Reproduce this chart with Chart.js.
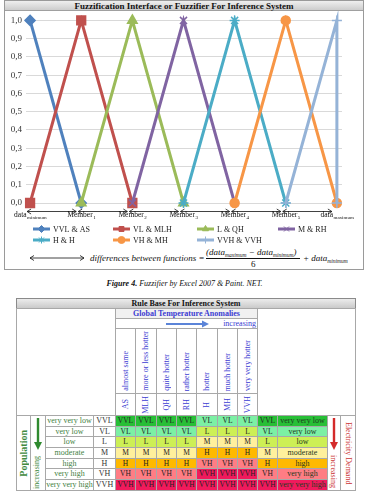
<!DOCTYPE html>
<html><head><meta charset="utf-8">
<script src="https://cdn.jsdelivr.net/npm/chart.js@4.4.1/dist/chart.umd.min.js"></script>
<style>
html,body{margin:0;padding:0;background:#fff;}
body{width:369px;height:492px;position:relative;overflow:hidden;font-family:'Liberation Serif','Times New Roman',serif;color:#111;}
.abs{position:absolute;box-sizing:border-box;}
#chartBox{left:4px;top:0;width:360px;height:270px;border:1px solid #9a9a9a;}
#chartTitle{left:0;top:0;width:358px;height:10px;background:linear-gradient(#efefef,#cdcdcd);border-bottom:1px solid #a0a0a0;font-weight:bold;font-size:9px;line-height:10px;text-align:center;}
.cell{position:absolute;box-sizing:border-box;border:1px solid #a8a8a8;display:flex;align-items:center;justify-content:center;overflow:hidden;white-space:nowrap;font-size:8px;line-height:1;}
.vup{writing-mode:vertical-rl;transform:rotate(180deg);}
.vdown{writing-mode:vertical-rl;}
.fx{position:absolute;font-style:italic;font-size:9px;white-space:nowrap;line-height:1;}
.fx sub{font-size:5.5px;vertical-align:-2px;}
</style></head><body>
<div id="chartBox" class="abs"><div id="chartTitle" class="abs">Fuzzification Interface or Fuzzifier For Inference System</div></div>
<canvas id="c" width="359" height="236" style="position:absolute;left:4px;top:11px;"></canvas>

<svg class="abs" style="left:29px;top:254px" width="56" height="8"><g stroke="#111" stroke-width="0.8" fill="none"><line x1="1" y1="4" x2="55" y2="4"/><polyline points="5,1.5 1,4 5,6.5"/><polyline points="51,1.5 55,4 51,6.5"/></g></svg>
<div class="fx" style="left:90px;top:254px">differences between functions =</div>
<div class="fx" style="left:206px;top:248px">(data<sub>maximum</sub> − data<sub>minimum</sub>)</div>
<div class="abs" style="left:206px;top:258px;width:94px;height:0;border-top:0.8px solid #111"></div>
<div class="fx" style="left:251px;top:260px;font-style:normal">6</div>
<div class="fx" style="left:303px;top:254px">+ data<sub>minimum</sub></div>

<div class="abs" style="left:0;top:280px;width:369px;text-align:center;font-size:8px;font-style:italic;line-height:1"><b>Figure 4.</b> Fuzzifier by Excel 2007 &amp; Paint. NET.</div>

<script>
// ---------- chart data ----------
const xLabelMain = ['data','Member','Member','Member','Member','Member','data'];
const xLabelSub  = ['minimum','1','2','3','4','5','maximum'];
const seriesNames = ['VVL & AS','VL & MLH','L & QH','M & RH','H & H','VH & MH','VVH & VVH'];
const seriesX = [[0,1],[0,1,2],[1,2,3],[2,3,4],[3,4,5],[4,5,6],[5,6,6]];
const seriesY = [[1,0],[0,1,0],[0,1,0],[0,1,0],[0,1,0],[0,1,0],[0,1,0]];
const seriesColors = ['#4f81bd','#c0504d','#9bbb59','#8064a2','#4bacc6','#f79646','#95b3d7'];
const markerStyles = ['rectRot','rect','triangle','crossRot','star','circle','cross'];
const markerSizes = [5,6.2,5.5,5,5,4.5,5];

// ---------- table data ----------
const tableTitle = 'Rule Base For Inference System';
const tempHeader = 'Global Temperature Anomalies';
const tempTerms = ['almost same','more or less hotter','quite hotter','rather hotter','hotter','much hotter','very very hotter'];
const tempAbbr = ['AS','MLH','QH','RH','H','MH','VVH'];
const popTerms = ['very very low','very low','low','moderate','high','very high','very very high'];
const popAbbr = ['VVL','VL','L','M','H','VH','VVH'];
const demandAbbr = ['VVL','VL','L','M','H','VH','VVH'];
const demandTerms = ['very very low','very low','low','moderate','high','very high','very very high'];
const ruleRows = [
  ['VVL','VVL','VVL','VVL','VL','VL','VL'],
  ['VL','VL','VL','VL','L','L','L'],
  ['L','L','L','L','M','M','M'],
  ['M','M','M','M','H','H','H'],
  ['H','H','H','H','VH','VH','VH'],
  ['VH','VH','VH','VH','VVH','VVH','VVH'],
  ['VVH','VVH','VVH','VVH','VVH','VVH','VVH']
];
const levelColors = {VVL:'#27bf36',VL:'#7cf0a4',L:'#cdef55',M:'#fff09c',H:'#ffb900',VH:'#ff7d84',VVH:'#f01a5c'};

const FONT = "'Liberation Serif','Times New Roman',serif";

const labelsPlugin = {
  id:'labelsPlugin',
  afterDraw(chart){
    const ctx = chart.ctx, xs = chart.scales.x;
    ctx.save();
    const px = xLabelMain.map((_,i)=>xs.getPixelForValue(i));
    // arrows
    ctx.strokeStyle='#111'; ctx.lineWidth=0.8;
    const ya = 200.5;
    for(let i=0;i<px.length-1;i++){
      const a = px[i]-3, b = px[i+1]-5;
      ctx.beginPath(); ctx.moveTo(a,ya); ctx.lineTo(b,ya);
      ctx.moveTo(a+4,ya-2.5); ctx.lineTo(a,ya); ctx.lineTo(a+4,ya+2.5);
      ctx.moveTo(b-4,ya-2.5); ctx.lineTo(b,ya); ctx.lineTo(b-4,ya+2.5);
      ctx.stroke();
    }
    // labels
    ctx.fillStyle='#111'; ctx.textBaseline='alphabetic'; ctx.textAlign='left';
    for(let i=0;i<px.length;i++){
      ctx.font = '7.5px '+FONT; const wm = ctx.measureText(xLabelMain[i]).width;
      ctx.font = '5px '+FONT; const ws = ctx.measureText(xLabelSub[i]).width;
      const x0 = px[i]-(wm+ws)/2;
      ctx.font = '7.5px '+FONT; ctx.fillText(xLabelMain[i], x0, 206);
      ctx.font = '5px '+FONT; ctx.fillText(xLabelSub[i], x0+wm+0.5, 208);
    }
    // legend
    const colX = [29,109,193,274], rowY = [218,229];
    chart.data.datasets.forEach((ds,i)=>{
      const cx = colX[i%4], cy = rowY[Math.floor(i/4)];
      ctx.strokeStyle = ds.borderColor; ctx.lineWidth = 3;
      ctx.beginPath(); ctx.moveTo(cx,cy); ctx.lineTo(cx+17,cy); ctx.stroke();
      ctx.fillStyle = ds.backgroundColor; ctx.strokeStyle = ds.borderColor; ctx.lineWidth = 1;
      if (Chart.helpers && Chart.helpers.drawPoint) {
        Chart.helpers.drawPoint(ctx,{pointStyle:ds.pointStyle,radius:3.5,rotation:0,borderWidth:1},cx+8.5,cy);
      }
      ctx.fillStyle='#222'; ctx.font='8px '+FONT; ctx.textBaseline='middle';
      ctx.fillText(ds.label, cx+20, cy+0.5);
    });
    ctx.restore();
  }
};

const datasets = seriesNames.map((name,i)=>({
  label:name,
  data: seriesX[i].map((x,j)=>({x:x, y:seriesY[i][j]})),
  borderColor: seriesColors[i], backgroundColor: seriesColors[i],
  pointBackgroundColor: seriesColors[i], pointBorderColor: seriesColors[i],
  borderWidth: 3, pointStyle: markerStyles[i], pointRadius: markerSizes[i], pointBorderWidth: 1.5,
  showLine: true, tension: 0, clip: false, order: seriesNames.length - i
}));

new Chart(document.getElementById('c'), {
  type:'scatter',
  data:{datasets},
  options:{
    responsive:false, animation:false, devicePixelRatio:1,
    layout:{padding:{top:9,right:21,bottom:44,left:0}},
    plugins:{legend:{display:false},tooltip:{enabled:false},title:{display:false}},
    scales:{
      x:{type:'linear',min:-0.08,max:6.1,display:false},
      y:{min:0,max:1,
         ticks:{stepSize:0.1,callback:v=>Number(v).toFixed(1).replace('.',','),font:{family:FONT,size:9},color:'#333',padding:4},
         grid:{color:'#d9d9d9',drawTicks:false}, border:{display:false},
         afterFit:s=>{s.width=22;}}
    }
  },
  plugins:[labelsPlugin]
});

// ---------- table ----------
function cell(x0,y0,x1,y1,html,style){
  const d=document.createElement('div');
  d.className='cell';
  d.style.left=x0+'px'; d.style.top=y0+'px';
  d.style.width=(x1-x0+1)+'px'; d.style.height=(y1-y0+1)+'px';
  if(style) Object.assign(d.style,style);
  if(html!=null) d.innerHTML=html;
  document.body.appendChild(d);
  return d;
}
const dX = [115,135,156,176,196,217,237,257];
const rY = [415,426,436,447,458,468,479,490];
const BLUE = '#3c3cd2';
cell(16,298,355,308,tableTitle,{background:'linear-gradient(#ececec,#cacaca)',fontWeight:'bold',borderColor:'#8a8a8a'});
cell(16,308,115,415,'',{});
cell(257,308,355,415,'',{});
cell(115,308,257,318,tempHeader,{background:'#f1f1f1',color:BLUE,fontWeight:'bold'});
cell(115,318,257,328,'<svg width="44" height="8" style="position:absolute;left:50px;top:1px"><line x1="0" y1="4" x2="37" y2="4" stroke="#5b84d8" stroke-width="2.2"/><polygon points="36,0.5 43,4 36,7.5" fill="#5b84d8"/></svg><span style="position:absolute;right:1px;top:1px;color:'+BLUE+'">increasing</span>',{display:'block'});
for(let k=0;k<7;k++){
  cell(dX[k],328,dX[k+1],393,'<span class="vup">'+tempTerms[k]+'</span>',{alignItems:'flex-end',paddingBottom:'2px',color:BLUE});
  cell(dX[k],393,dX[k+1],415,'<span class="vup">'+tempAbbr[k]+'</span>',{color:BLUE});
}
cell(16,415,30,490,'<span class="vup">Population</span>',{color:'#3f8a3f',fontWeight:'bold',fontSize:'10px'});
cell(30,415,45,490,'<svg width="10" height="34" style="position:absolute;left:2px;top:2px"><line x1="5" y1="0" x2="5" y2="26" stroke="#2f8a2f" stroke-width="2.4"/><polygon points="1,24 9,24 5,32" fill="#2f8a2f"/></svg><span class="vup" style="position:absolute;left:2px;bottom:1px;color:#3f8a3f">increasing</span>',{display:'block'});
for(let r=0;r<7;r++){
  cell(45,rY[r],93,rY[r+1],popTerms[r],{color:'#3f7f3f'});
  cell(93,rY[r],115,rY[r+1],popAbbr[r],{color:'#333'});
  for(let k=0;k<7;k++){
    const v=ruleRows[r][k];
    cell(dX[k],rY[r],dX[k+1],rY[r+1],v,{background:levelColors[v],color:'#222',fontSize:'7.5px'});
  }
  cell(257,rY[r],277,rY[r+1],demandAbbr[r],{background:levelColors[demandAbbr[r]],color:'#222',fontSize:'7.5px'});
  cell(277,rY[r],327,rY[r+1],demandTerms[r],{background:levelColors[demandAbbr[r]],color:'#1e3a1e'});
}
cell(327,415,340,490,'<svg width="10" height="34" style="position:absolute;left:1px;top:2px"><line x1="5" y1="0" x2="5" y2="26" stroke="#d42a2a" stroke-width="2.4"/><polygon points="1,24 9,24 5,32" fill="#d42a2a"/></svg><span class="vdown" style="position:absolute;left:1px;bottom:2px;color:#cc3333">increasing</span>',{display:'block'});
cell(340,415,355,490,'<span class="vdown">Electricity Demand</span>',{color:'#cc3333'});
</script>
</body></html>
